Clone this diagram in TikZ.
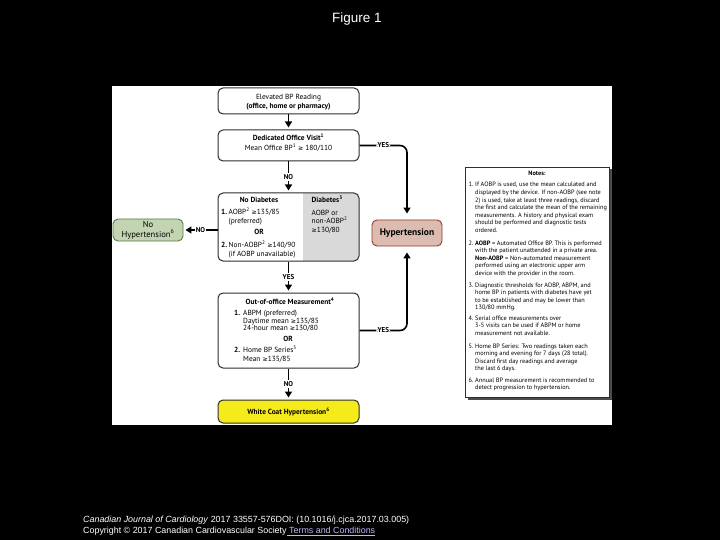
\documentclass[tikz,border=0pt]{standalone}
\usepackage{fontspec}
\usepackage{graphicx}
\setmainfont{PT Sans}
\newfontfamily\arialf{Liberation Sans}
\newfontfamily\symf{DejaVu Sans}
\usetikzlibrary{arrows.meta}
\newcommand{\gee}{\scalebox{0.85}{\symf ≥}}
\newcommand{\nfont}{\fontsize{6.3}{7.6}\selectfont}
\definecolor{bordc}{HTML}{2E2E2E}
\definecolor{greenf}{HTML}{C3D4B3}
\definecolor{greend}{HTML}{5C7A4A}
\definecolor{hypf}{HTML}{DCBCB0}
\definecolor{hypd}{HTML}{8E3A30}
\definecolor{yelf}{HTML}{F5EB1A}
\definecolor{grayf}{HTML}{D9D9D9}
\definecolor{linkc}{HTML}{B8B8F0}
\tikzset{
  flowbox/.style={draw=bordc, line width=1pt, rounded corners=5pt, inner sep=0pt, fill=white},
  conn/.style={line width=1.6pt, -{Triangle[length=6pt,width=7pt]}, shorten >=2pt},
  lbl/.style={fill=white, inner sep=1.2pt, font=\bfseries\fontsize{7}{8}\selectfont},
  mreg/.style={inner sep=0pt, font=\fontsize{7.4}{8.5}\selectfont},
  mbold/.style={inner sep=0pt, font=\bfseries\fontsize{7.4}{8.5}\selectfont},
  gtxt/.style={inner sep=0pt, font=\fontsize{8.6}{9}\selectfont},
  ntxt/.style={inner sep=0pt, font=\nfont},
  foot/.style={inner sep=0pt, text=white, font=\arialf\fontsize{8.9}{10}\selectfont},
}
\begin{document}
\begin{tikzpicture}[x=1pt,y=-1pt]
\fill[black] (0,0) rectangle (720,540);
\useasboundingbox (0,0) rectangle (720,540);
\fill[white] (112,86) rectangle (612,425);

% title
\node[inner sep=0pt, text=white, font=\arialf\fontsize{13.5}{15}\selectfont] (title) at (357,19) {Figure 1};

% top box
\node[flowbox, minimum width=141pt, minimum height=26pt] (top) at (288.5,101) {};
\node[mreg, anchor=base] (t1) at (288.5,99.3) {Elevated BP Reading};
\node[mbold, anchor=base] (t2) at (288.5,108.3) {(office, home or pharmacy)};

% dedicated office visit
\node[flowbox, minimum width=141pt, minimum height=31pt] (ded) at (288.5,145.5) {};
\node[mbold, anchor=base] (d1) at (288.5,141) {Dedicated Office Visit\textsuperscript{1}};
\node[mreg, anchor=base] (d2) at (288.5,150.3) {Mean Office BP\textsuperscript{1} \gee\ 180/110};

% big box
\fill[white, rounded corners=5pt] (218,193) rectangle (359,261);
\begin{scope}
  \clip[rounded corners=5pt] (218,193) rectangle (359,261);
  \fill[grayf] (303,193) rectangle (359,261);
\end{scope}
\node[flowbox, fill=none, minimum width=141pt, minimum height=68pt] (big) at (288.5,227) {};
\node[mbold, anchor=base] (b0) at (259,203) {No Diabetes};
\node[mbold, anchor=base west] (b1n) at (221,214.6) {1.};
\node[mreg, anchor=base west] (b1) at (228.5,214.6) {AOBP\textsuperscript{2} \gee135/85};
\node[mreg, anchor=base west] (b1b) at (228.5,224) {(preferred)};
\node[mbold, anchor=base] (bor) at (259,234) {OR};
\node[mbold, anchor=base west] (b2n) at (221,247.3) {2.};
\node[mreg, anchor=base west] (b2) at (228.5,247.3) {Non-AOBP\textsuperscript{2} \gee140/90};
\node[mreg, anchor=base west] (b2b) at (228.5,256.6) {(if AOBP unavailable)};
\node[mbold, anchor=base west] (g0) at (311.5,203) {Diabetes\textsuperscript{3}};
\node[mreg, anchor=base west] (g1) at (311.5,215) {AOBP or};
\node[mreg, anchor=base west] (g2) at (311.5,223.3) {non-AOBP\textsuperscript{2}};
\node[mreg, anchor=base west] (g3) at (311.5,232.3) {\gee130/80};

% no hypertension
\node[draw=greend, fill=greenf, line width=0.9pt, rounded corners=5pt, inner sep=0pt,
      minimum width=70pt, minimum height=22pt] (noh) at (148,230) {};
\node[gtxt, anchor=base] (noh1) at (148,228) {No};
\node[gtxt, anchor=base] (noh2) at (148,237.3) {Hypertension\textsuperscript{6}};

% hypertension
\node[draw=hypd, fill=hypf, line width=0.9pt, rounded corners=5pt, inner sep=0pt,
      minimum width=70pt, minimum height=26pt,
      font=\bfseries\fontsize{9.5}{10}\selectfont] (hyp) at (407,233) {Hypertension};

% out-of-office
\node[flowbox, minimum width=141pt, minimum height=75pt] (out) at (288.5,330.5) {};
\node[mbold, anchor=base] (o0) at (290,304.6) {Out-of-office Measurement\textsuperscript{4}};
\node[mbold, anchor=base west] (o1n) at (234,315.6) {1.};
\node[mreg, anchor=base west] (o1) at (243,315.6) {ABPM (preferred)};
\node[mreg, anchor=base west] (o2) at (243,323) {Daytime mean \gee135/85};
\node[mreg, anchor=base west] (o3) at (243,330.6) {24-hour mean \gee130/80};
\node[mbold, anchor=base] (oor) at (288,341.3) {OR};
\node[mbold, anchor=base west] (o4n) at (234,352.3) {2.};
\node[mreg, anchor=base west] (o4) at (243,352.3) {Home BP Series\textsuperscript{5}};
\node[mreg, anchor=base west] (o5) at (243,361.3) {Mean \gee135/85};

% white coat
\node[flowbox, fill=yelf, minimum width=141pt, minimum height=23pt,
      font=\bfseries\fontsize{7.4}{8.5}\selectfont] (wc) at (288.5,411.5) {White Coat Hypertension\textsuperscript{6}};

% notes
\fill[black!70] (467.5,169.5) rectangle (611.5,399.5);
\node[draw=bordc, fill=white, line width=0.8pt, inner sep=0pt,
      minimum width=144pt, minimum height=230pt] (notes) at (537,282) {};
\node[ntxt, anchor=base, font=\bfseries\nfont] (nh) at (537,175.5) {Notes:};
\node[ntxt, anchor=base west] (n1n) at (468.5,187) {1.};
\node[ntxt, anchor=base west] (n1) at (475,187) {\parbox[t]{200pt}{\nfont If AOBP is used, use the mean calculated and\\displayed by the device. If non-AOBP (see note\\2) is used, take at least three readings, discard\\the first and calculate the mean of the remaining\\measurements. A history and physical exam\\should be performed and diagnostic tests\\ordered.}};
\node[ntxt, anchor=base west] (n2n) at (468.5,245) {2.};
\node[ntxt, anchor=base west] (n2) at (475,245) {\parbox[t]{200pt}{\nfont\textbf{AOBP} = Automated Office BP. This is performed\\with the patient unattended in a private area.\\\textbf{Non-AOBP} = Non-automated measurement\\performed using an electronic upper arm\\device with the provider in the room.}};
\node[ntxt, anchor=base west] (n3n) at (468.5,287) {3.};
\node[ntxt, anchor=base west] (n3) at (475,287) {\parbox[t]{200pt}{\nfont Diagnostic thresholds for AOBP, ABPM, and\\home BP in patients with diabetes have yet\\to be established and may be lower than\\130/80 mmHg.}};
\node[ntxt, anchor=base west] (n4n) at (468.5,320.3) {4.};
\node[ntxt, anchor=base west] (n4) at (475,320.3) {\parbox[t]{200pt}{\nfont Serial office measurements over\\3-5 visits can be used if ABPM or home\\measurement not available.}};
\node[ntxt, anchor=base west] (n5n) at (468.5,348) {5.};
\node[ntxt, anchor=base west] (n5) at (475,348) {\parbox[t]{200pt}{\nfont Home BP Series: Two readings taken each\\morning and evening for 7 days (28 total).\\Discard first day readings and average\\the last 6 days.}};
\node[ntxt, anchor=base west] (n6n) at (468.5,382) {6.};
\node[ntxt, anchor=base west] (n6) at (475,382) {\parbox[t]{200pt}{\nfont Annual BP measurement is recommended to\\detect progression to hypertension.}};

% connectors
\draw[conn] (top.south) -- (ded.north);
\draw[conn] (ded.south) -- node[lbl]{NO} (big.north);
\draw[conn, rounded corners=7pt, shorten >=6pt] (ded.east) -| node[lbl, pos=0.25]{YES} (hyp.north);
\draw[conn] (big.west |- noh.east) -- node[lbl]{NO} (noh.east);
\draw[conn] (big.south) -- node[lbl]{YES} (out.north);
\draw[conn, rounded corners=7pt, shorten >=6pt] (out.east) -| node[lbl, pos=0.25]{YES} (hyp.south);
\draw[conn] (out.south) -- node[lbl]{NO} (wc.north);

% footer
\node[foot, anchor=base west] (f1) at (83,522) {\textit{Canadian Journal of Cardiology} 2017 33557-576DOI: (10.1016/j.cjca.2017.03.005)};
\node[foot, anchor=base west] (f2) at (83,533.5) {Copyright © 2017 Canadian Cardiovascular Society\textcolor{linkc}{\underline{ Terms and Conditions}}};
\end{tikzpicture}
\end{document}
